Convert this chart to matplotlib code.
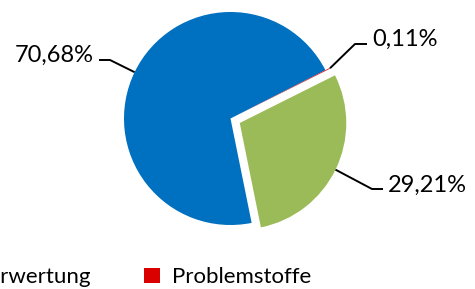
import matplotlib
matplotlib.use('Agg')
import matplotlib.pyplot as plt
import numpy as np
from matplotlib.patches import Patch

categories = ['Stoffliche Verwertung', 'Energetische Verwertung', 'Problemstoffe']
values = [70.68, 29.21, 0.11]
labels = ['70,68%', '29,21%', '0,11%']
colors = ['#0070C0', '#9BBB59', '#DA0000']
explode_px = [0.0, 10.3, 5.0]

FONT = 'Lato'
W, H = 475, 289
fig = plt.figure(figsize=(W / 100, H / 100), dpi=100)
ax = fig.add_axes([0, 0, 1, 1])

cx, cy, r = 230.5, H - 118.5, 106.5
wedges, _ = ax.pie(values, colors=colors, startangle=27, counterclock=True,
                   explode=explode_px, center=(cx, cy), radius=r,
                   wedgeprops=dict(linewidth=0))
ax.set_xlim(0, W)
ax.set_ylim(0, H)
ax.set_aspect('equal')
ax.axis('off')

# label layout (pixel coords from top): elbow, end, text anchor, ha
layout = [
    ((110, 60), (99, 60), (94, 62), 'right'),
    ((372, 189), (383, 189), (388, 192), 'left'),
    ((355, 44), (367, 44), (372, 46), 'left'),
]
for w, lab, (elb, end, tpos, ha) in zip(wedges, labels, layout):
    mid = np.deg2rad((w.theta1 + w.theta2) / 2)
    px = w.center[0] + w.r * np.cos(mid)
    py = w.center[1] + w.r * np.sin(mid)
    ax.plot([px, elb[0], end[0]], [py, H - elb[1], H - end[1]],
            color='black', lw=1.4, solid_capstyle='butt')
    ax.text(tpos[0], H - tpos[1], lab, ha=ha, va='baseline',
            fontsize=17, family=FONT, color='black')

handles = [Patch(facecolor=c, edgecolor='none') for c in colors]
fs = 16
em = fs * 100 / 72
leg = fig.legend(handles, categories, loc='lower left', bbox_to_anchor=(0, 0),
                 ncol=3, frameon=False, prop={'family': FONT, 'size': fs},
                 handlelength=16 / em, handleheight=15 / em,
                 handletextpad=12 / em, columnspacing=54 / em,
                 borderpad=0, borderaxespad=0)
fig.canvas.draw()
rend = fig.canvas.get_renderer()
bb = leg.legend_handles[2].get_window_extent(rend)
dx = 144 - bb.x0
dy = (H - 283) - bb.y0
leg.set_bbox_to_anchor((dx / W, dy / H), transform=fig.transFigure)

fig.savefig('out.png', dpi=100)
